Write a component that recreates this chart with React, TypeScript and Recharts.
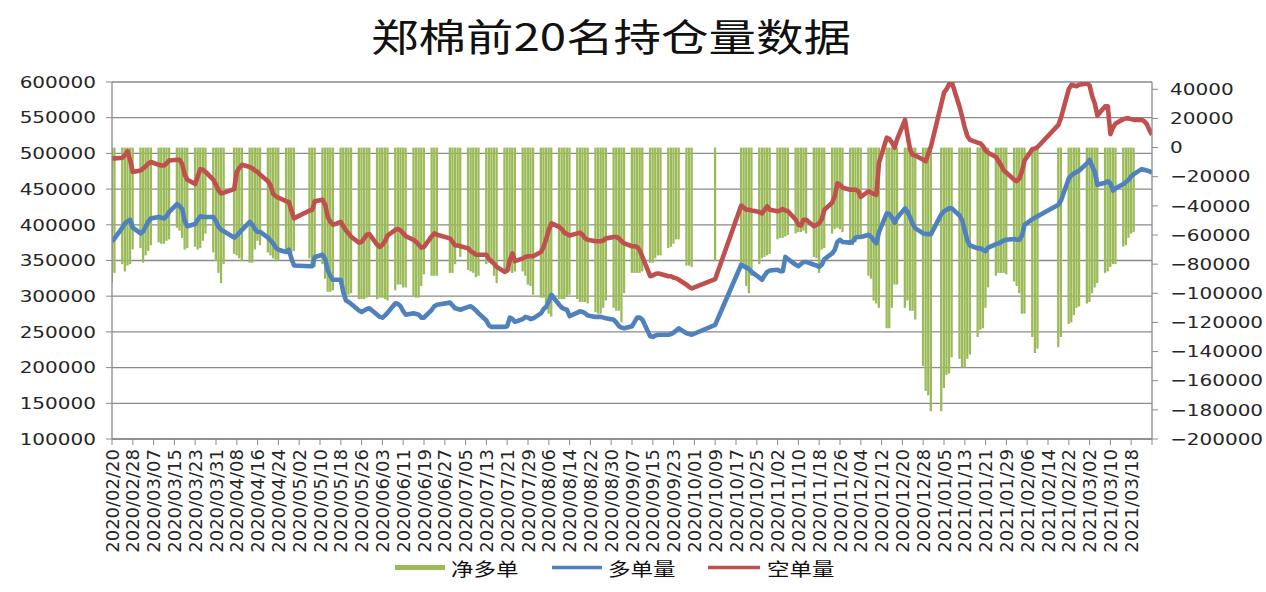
import React from 'react';
import { ComposedChart, Bar, Line, XAxis, YAxis, CartesianGrid } from 'recharts';

const title = '郑棉前20名持仓量数据';
const seriesNames = ['净多单', '多单量', '空单量'];
const seriesColors = ['#9BBB59', '#4F81BD', '#C0504D'];

// trading dates
const dates = [
  '2020/02/20','2020/02/21','2020/02/24','2020/02/25','2020/02/26','2020/02/27','2020/02/28',
  '2020/03/02','2020/03/03','2020/03/04','2020/03/05','2020/03/06',
  '2020/03/09','2020/03/10','2020/03/11','2020/03/12','2020/03/13',
  '2020/03/16','2020/03/17','2020/03/18','2020/03/19','2020/03/20',
  '2020/03/23','2020/03/24','2020/03/25','2020/03/26','2020/03/27',
  '2020/03/30','2020/03/31','2020/04/01','2020/04/02','2020/04/03',
  '2020/04/07','2020/04/08','2020/04/09','2020/04/10',
  '2020/04/13','2020/04/14','2020/04/15','2020/04/16','2020/04/17',
  '2020/04/20','2020/04/21','2020/04/22','2020/04/23','2020/04/24',
  '2020/04/27','2020/04/28','2020/04/29','2020/04/30',
  '2020/05/06','2020/05/07','2020/05/08',
  '2020/05/11','2020/05/12','2020/05/13','2020/05/14','2020/05/15',
  '2020/05/18','2020/05/19','2020/05/20','2020/05/21','2020/05/22',
  '2020/05/25','2020/05/26','2020/05/27','2020/05/28','2020/05/29',
  '2020/06/01','2020/06/02','2020/06/03','2020/06/04','2020/06/05',
  '2020/06/08','2020/06/09','2020/06/10','2020/06/11','2020/06/12',
  '2020/06/15','2020/06/16','2020/06/17','2020/06/18','2020/06/19',
  '2020/06/22','2020/06/23','2020/06/24',
  '2020/06/29','2020/06/30','2020/07/01','2020/07/02','2020/07/03',
  '2020/07/06','2020/07/07','2020/07/08','2020/07/09','2020/07/10',
  '2020/07/13','2020/07/14','2020/07/15','2020/07/16','2020/07/17',
  '2020/07/20','2020/07/21','2020/07/22','2020/07/23','2020/07/24',
  '2020/07/27','2020/07/28','2020/07/29','2020/07/30','2020/07/31',
  '2020/08/03','2020/08/04','2020/08/05','2020/08/06','2020/08/07',
  '2020/08/10','2020/08/11','2020/08/12','2020/08/13','2020/08/14',
  '2020/08/17','2020/08/18','2020/08/19','2020/08/20','2020/08/21',
  '2020/08/24','2020/08/25','2020/08/26','2020/08/27','2020/08/28',
  '2020/08/31','2020/09/01','2020/09/02','2020/09/03','2020/09/04',
  '2020/09/07','2020/09/08','2020/09/09','2020/09/10','2020/09/11',
  '2020/09/14','2020/09/15','2020/09/16','2020/09/17','2020/09/18',
  '2020/09/21','2020/09/22','2020/09/23','2020/09/24','2020/09/25',
  '2020/09/28','2020/09/29','2020/09/30',
  '2020/10/09',
  '2020/10/19','2020/10/20','2020/10/21','2020/10/22','2020/10/23',
  '2020/10/26','2020/10/27','2020/10/28','2020/10/29','2020/10/30',
  '2020/11/02','2020/11/03','2020/11/04','2020/11/05','2020/11/06',
  '2020/11/09','2020/11/10','2020/11/11','2020/11/12','2020/11/13',
  '2020/11/16','2020/11/17','2020/11/18','2020/11/19','2020/11/20',
  '2020/11/23','2020/11/24','2020/11/25','2020/11/26','2020/11/27',
  '2020/11/30','2020/12/01','2020/12/02','2020/12/03','2020/12/04',
  '2020/12/07','2020/12/08','2020/12/09','2020/12/10','2020/12/11',
  '2020/12/14','2020/12/15','2020/12/16','2020/12/17','2020/12/18',
  '2020/12/21','2020/12/22','2020/12/23','2020/12/24','2020/12/25',
  '2020/12/28','2020/12/29','2020/12/30','2020/12/31',
  '2021/01/04','2021/01/05','2021/01/06','2021/01/07','2021/01/08',
  '2021/01/11','2021/01/12','2021/01/13','2021/01/14','2021/01/15',
  '2021/01/18','2021/01/19','2021/01/20','2021/01/21','2021/01/22',
  '2021/01/25','2021/01/26','2021/01/27','2021/01/28','2021/01/29',
  '2021/02/01','2021/02/02','2021/02/03','2021/02/04','2021/02/05',
  '2021/02/08','2021/02/09','2021/02/10',
  '2021/02/18','2021/02/19',
  '2021/02/22','2021/02/23','2021/02/24','2021/02/25','2021/02/26',
  '2021/03/01','2021/03/02','2021/03/03','2021/03/04','2021/03/05',
  '2021/03/08','2021/03/09','2021/03/10','2021/03/11','2021/03/12',
  '2021/03/15','2021/03/16','2021/03/17','2021/03/18','2021/03/19',
  '2021/03/22','2021/03/23','2021/03/24','2021/03/25','2021/03/26',
];

// 空单量 (short)
const shortVol = [
  493000,493000,494000,498000,503000,490000,474000,
  476000,479000,482000,486000,488000,
  484000,483000,483000,486000,490000,
  491000,491000,485000,470000,463000,
  457000,468000,478000,477000,474000,
  463000,456000,448000,444000,445000,
  450000,474000,480000,484000,
  481000,479000,476000,474000,470000,
  461000,455000,443000,440000,438000,
  433000,432000,420000,409000,
  420000,421000,433000,
  435000,428000,411000,404000,400000,
  404000,398000,392000,388000,383000,
  375000,376000,381000,386000,387000,
  372000,369000,372000,377000,385000,
  393000,394000,392000,388000,384000,
  379000,376000,372000,368000,369000,
  384000,388000,386000,
  381000,376000,371000,371000,370000,
  367000,363000,361000,358000,358000,
  358000,352000,349000,345000,341000,
  334000,336000,350000,360000,349000,
  353000,355000,356000,356000,356000,
  362000,369000,380000,393000,402000,
  397000,394000,389000,387000,385000,
  388000,389000,386000,381000,379000,
  377000,377000,377000,378000,381000,
  383000,383000,381000,377000,374000,
  370000,370000,369000,364000,355000,
  328000,329000,331000,332000,331000,
  328000,328000,326000,325000,323000,
  316000,313000,311000,
  324000,
  427000,424000,421000,421000,420000,
  418000,416000,421000,426000,421000,
  419000,420000,422000,420000,419000,
  407000,400000,399000,407000,407000,
  398000,400000,402000,408000,421000,
  431000,440000,458000,456000,452000,
  449000,449000,449000,447000,439000,
  447000,445000,443000,442000,487000,
  522000,520000,515000,508000,520000,
  547000,525000,505000,498000,497000,
  491000,489000,500000,510000,
  570000,585000,590000,597000,600000,
  565000,551000,536000,524000,519000,
  515000,514000,510000,504000,501000,
  495000,489000,483000,476000,473000,
  463000,461000,465000,475000,490000,
  506000,507000,509000,
  540000,550000,
  590000,596000,595000,594000,596000,
  598000,595000,580000,570000,553000,
  566000,566000,527000,536000,542000,
  548000,549000,549000,548000,547000,
  547000,545000,541000,533000,526000,
];

// 多单量 (long)
const longVol = [
  377000,381000,396000,402000,405000,407000,396000,
  388000,391000,398000,405000,409000,
  411000,410000,409000,412000,418000,
  429000,426000,422000,405000,398000,
  401000,407000,412000,411000,411000,
  411000,405000,397000,393000,391000,
  382000,385000,389000,393000,
  404000,400000,394000,390000,390000,
  382000,378000,374000,368000,365000,
  362000,365000,353000,343000,
  342000,342000,355000,
  358000,352000,336000,328000,323000,
  323000,305000,294000,292000,289000,
  280000,278000,280000,282000,283000,
  274000,271000,270000,273000,277000,
  290000,289000,286000,279000,274000,
  276000,275000,274000,270000,270000,
  281000,286000,288000,
  291000,287000,283000,282000,281000,
  285000,286000,283000,280000,276000,
  266000,259000,257000,257000,257000,
  257000,258000,270000,268000,264000,
  268000,271000,270000,268000,269000,
  276000,282000,285000,293000,302000,
  288000,284000,282000,281000,272000,
  277000,279000,278000,276000,273000,
  271000,271000,271000,270000,269000,
  267000,263000,258000,256000,255000,
  258000,264000,270000,270000,267000,
  244000,243000,245000,246000,246000,
  246000,247000,249000,252000,255000,
  248000,247000,246000,
  260000,
  344000,342000,340000,338000,334000,
  326000,323000,329000,334000,336000,
  337000,335000,335000,355000,352000,
  344000,342000,345000,348000,348000,
  344000,343000,341000,344000,352000,
  360000,365000,376000,379000,376000,
  375000,377000,382000,383000,383000,
  386000,383000,378000,374000,390000,
  416000,415000,410000,403000,410000,
  423000,418000,410000,401000,395000,
  388000,387000,387000,387000,
  415000,419000,421000,423000,423000,
  413000,406000,392000,378000,371000,
  367000,367000,365000,363000,368000,
  373000,374000,376000,378000,379000,
  380000,379000,379000,385000,400000,
  408000,410000,412000,
  428000,434000,
  465000,469000,472000,474000,476000,
  486000,491000,482000,474000,456000,
  459000,461000,458000,448000,451000,
  457000,460000,463000,468000,471000,
  478000,477000,476000,475000,473000,
];

// 净多单 (net long)
const netLong: (number | null)[] = [
  -93000,-86000,-80000,-85000,-81000,-80000,-70000,
  -69000,-79000,-74000,-71000,-67000,
  -65000,-66000,-66000,-64000,-63000,
  -55000,-57000,-62000,-70000,-69000,
  -68000,-70000,-69000,-64000,-59000,
  -72000,-78000,-86000,-93000,-80000,
  -73000,-74000,-76000,-78000,
  -79000,-79000,-70000,-64000,-67000,
  -72000,-74000,-76000,-78000,-77000,
  -71000,-71000,-72000,-71000,
  -76000,-79000,-82000,
  -80000,-90000,-99000,-99000,-98000,
  -92000,-101000,-102000,-101000,-100000,
  -104000,-104000,-104000,-103000,-102000,
  -104000,-103000,-103000,-104000,-105000,
  -98000,-94000,-94000,-96000,-96000,
  -102000,-103000,-103000,-95000,-87000,
  -88000,-88000,-88000,
  -86000,-86000,-80000,-68000,-75000,
  -84000,-85000,-86000,-89000,-88000,
  -80000,-79000,-80000,-88000,-93000,
  -84000,-82000,-85000,-86000,-85000,
  -85000,-88000,-94000,-95000,-101000,
  -103000,-103000,-108000,-114000,-116000,
  -104000,-104000,-104000,-102000,-101000,
  -104000,-106000,-106000,-106000,-107000,
  -113000,-114000,-114000,-110000,-105000,
  -110000,-112000,-112000,-120000,-100000,
  -86000,-86000,-86000,-86000,-85000,
  -79000,-79000,-76000,-74000,-74000,
  -69000,-68000,-66000,-63000,-63000,
  -81000,-81000,-82000,
  -78000,
  -81000,-81000,-95000,-100000,-88000,
  -80000,-76000,-75000,-74000,-73000,
  -63000,-62000,-62000,-61000,-60000,
  -59000,-58000,-58000,-57000,-59000,
  -75000,-76000,-86000,-70000,-69000,
  -59000,-56000,-55000,-56000,-58000,
  -66000,-67000,-65000,-62000,-62000,
  -88000,-90000,-105000,-107000,-110000,
  -124000,-124000,-110000,-94000,-94000,
  -110000,-105000,-112000,-112000,-118000,
  -150000,-167000,-170000,-181000,
  -181000,-165000,-156000,-155000,-144000,
  -145000,-151000,-151000,-145000,-142000,
  -130000,-125000,-124000,-110000,-96000,
  -88000,-86000,-86000,-86000,-87000,
  -92000,-95000,-100000,-114000,-114000,
  -130000,-141000,-138000,
  -137000,-130000,
  -121000,-120000,-115000,-110000,-109000,
  -107000,-106000,-100000,-96000,-93000,
  -86000,-85000,-82000,-80000,-80000,
  -68000,-67000,-62000,-59000,-58000,
  null,null,null,null,null,
];

// x-axis tick labels (every 8 days)
const tickLabels = [
  '2020/02/20','2020/02/28','2020/03/07','2020/03/15','2020/03/23','2020/03/31',
  '2020/04/08','2020/04/16','2020/04/24','2020/05/02','2020/05/10','2020/05/18',
  '2020/05/26','2020/06/03','2020/06/11','2020/06/19','2020/06/27','2020/07/05',
  '2020/07/13','2020/07/21','2020/07/29','2020/08/06','2020/08/14','2020/08/22',
  '2020/08/30','2020/09/07','2020/09/15','2020/09/23','2020/10/01','2020/10/09',
  '2020/10/17','2020/10/25','2020/11/02','2020/11/10','2020/11/18','2020/11/26',
  '2020/12/04','2020/12/12','2020/12/20','2020/12/28','2021/01/05','2021/01/13',
  '2021/01/21','2021/01/29','2021/02/06','2021/02/14','2021/02/22','2021/03/02',
  '2021/03/10','2021/03/18',
];
const leftTicks = [100000,150000,200000,250000,300000,350000,400000,450000,500000,550000,600000];
const rightTicks = [-200000,-180000,-160000,-140000,-120000,-100000,-80000,-60000,-40000,-20000,0,20000,40000];

const DAY = 86400000;
const t0 = Date.UTC(2020, 1, 20);
const dayOf = (s: string) => {
  const [y, m, d] = s.split('/').map(Number);
  return Math.round((Date.UTC(y, m - 1, d) - t0) / DAY);
};

const data = dates.map((s, i) => ({
  d: dayOf(s),
  long: longVol[i],
  short: shortVol[i],
  net: netLong[i],
}));

const tickDays = tickLabels.map(dayOf);
const axisEnd = tickDays[tickDays.length - 1] + 8;
const xTicks = [...tickDays, axisEnd];
const labelByDay: Record<number, string> = {};
tickLabels.forEach((l, i) => { labelByDay[tickDays[i]] = l; });

const SX = 1.25;
const NUM_FONT = '"DejaVu Sans", sans-serif';
const CJK_FONT = '"Noto Sans CJK SC", sans-serif';
const TEXT = '#262626';
const GRID = '#8a8a8a';

const fmtNum = (v: number) => (v < 0 ? '\u2212' + String(-v) : String(v));

const LeftTick = (props: any) => {
  const { x, y, payload } = props;
  return (
    <text transform={`translate(${x},${y}) scale(${SX},1)`} textAnchor="end" dominantBaseline="central"
      fontFamily={NUM_FONT} fontSize={16} fill={TEXT}>{fmtNum(payload.value)}</text>
  );
};
const RightTick = (props: any) => {
  const { x, y, payload } = props;
  return (
    <text transform={`translate(${x},${y}) scale(${SX},1)`} textAnchor="start" dominantBaseline="central"
      fontFamily={NUM_FONT} fontSize={16} fill={TEXT}>{fmtNum(payload.value)}</text>
  );
};
const XTick = (props: any) => {
  const { x, y, payload } = props;
  const label = labelByDay[payload.value] || '';
  return (
    <text transform={`translate(${x},${y}) rotate(-90)`} textAnchor="end" dominantBaseline="central"
      fontFamily={NUM_FONT} fontSize={18} fill={TEXT}>{label}</text>
  );
};

export default function App() {
  const W = 1266;
  const H = 592;
  return (
    <div style={{ position: 'absolute', left: 0, top: 0, width: W, height: H, background: '#fff' }}>
      <ComposedChart width={W} height={H} data={data}
        margin={{ top: 82, right: 0, bottom: 43, left: 0 }}>
        <CartesianGrid yAxisId="left" vertical={false} horizontal stroke={GRID} strokeWidth={1.3} />
        <XAxis dataKey="d" type="number" domain={[0, axisEnd]} ticks={xTicks} interval={0}
          allowDataOverflow height={110} tick={<XTick />} tickLine={{ stroke: GRID }}
          axisLine={{ stroke: GRID, strokeWidth: 1.3 }} tickSize={6} tickMargin={4} />
        <YAxis yAxisId="left" domain={[100000, 600000]} ticks={leftTicks} interval={0}
          allowDataOverflow width={112} tick={<LeftTick />} tickLine={{ stroke: GRID }}
          axisLine={{ stroke: GRID, strokeWidth: 1.3 }} tickSize={6} tickMargin={10} />
        <YAxis yAxisId="right" orientation="right" domain={[-200000, 45000]} ticks={rightTicks}
          interval={0} allowDataOverflow width={114} tick={<RightTick />} tickLine={{ stroke: GRID }}
          axisLine={{ stroke: GRID, strokeWidth: 1.3 }} tickSize={6} tickMargin={12} />
        <Bar yAxisId="right" dataKey="net" name={seriesNames[0]} fill={seriesColors[0]} barSize={2.3}
          isAnimationActive={false} />
        <Line yAxisId="left" dataKey="long" name={seriesNames[1]} stroke={seriesColors[1]} strokeWidth={4.6}
          dot={false} activeDot={false} isAnimationActive={false} strokeLinejoin="round" />
        <Line yAxisId="left" dataKey="short" name={seriesNames[2]} stroke={seriesColors[2]} strokeWidth={4.6}
          dot={false} activeDot={false} isAnimationActive={false} strokeLinejoin="round" />
      </ComposedChart>
      <svg width={W} height={H} style={{ position: 'absolute', left: 0, top: 0, pointerEvents: 'none' }}>
        <text transform={`translate(611,34) scale(${SX},1)`} textAnchor="middle" dominantBaseline="central"
          fontFamily={CJK_FONT} fontSize={38} fill="#111">{title}</text>
        <rect x={395} y={565} width={50} height={5} fill={seriesColors[0]} />
        <text transform={`translate(451,568) scale(${SX},1)`} dominantBaseline="central"
          fontFamily={CJK_FONT} fontSize={18} fill="#111">{seriesNames[0]}</text>
        <line x1={552} x2={602} y1={567.5} y2={567.5} stroke={seriesColors[1]} strokeWidth={3.5} />
        <text transform={`translate(608,568) scale(${SX},1)`} dominantBaseline="central"
          fontFamily={CJK_FONT} fontSize={18} fill="#111">{seriesNames[1]}</text>
        <line x1={708} x2={760} y1={567.5} y2={567.5} stroke={seriesColors[2]} strokeWidth={3.5} />
        <text transform={`translate(767,568) scale(${SX},1)`} dominantBaseline="central"
          fontFamily={CJK_FONT} fontSize={18} fill="#111">{seriesNames[2]}</text>
      </svg>
    </div>
  );
}
